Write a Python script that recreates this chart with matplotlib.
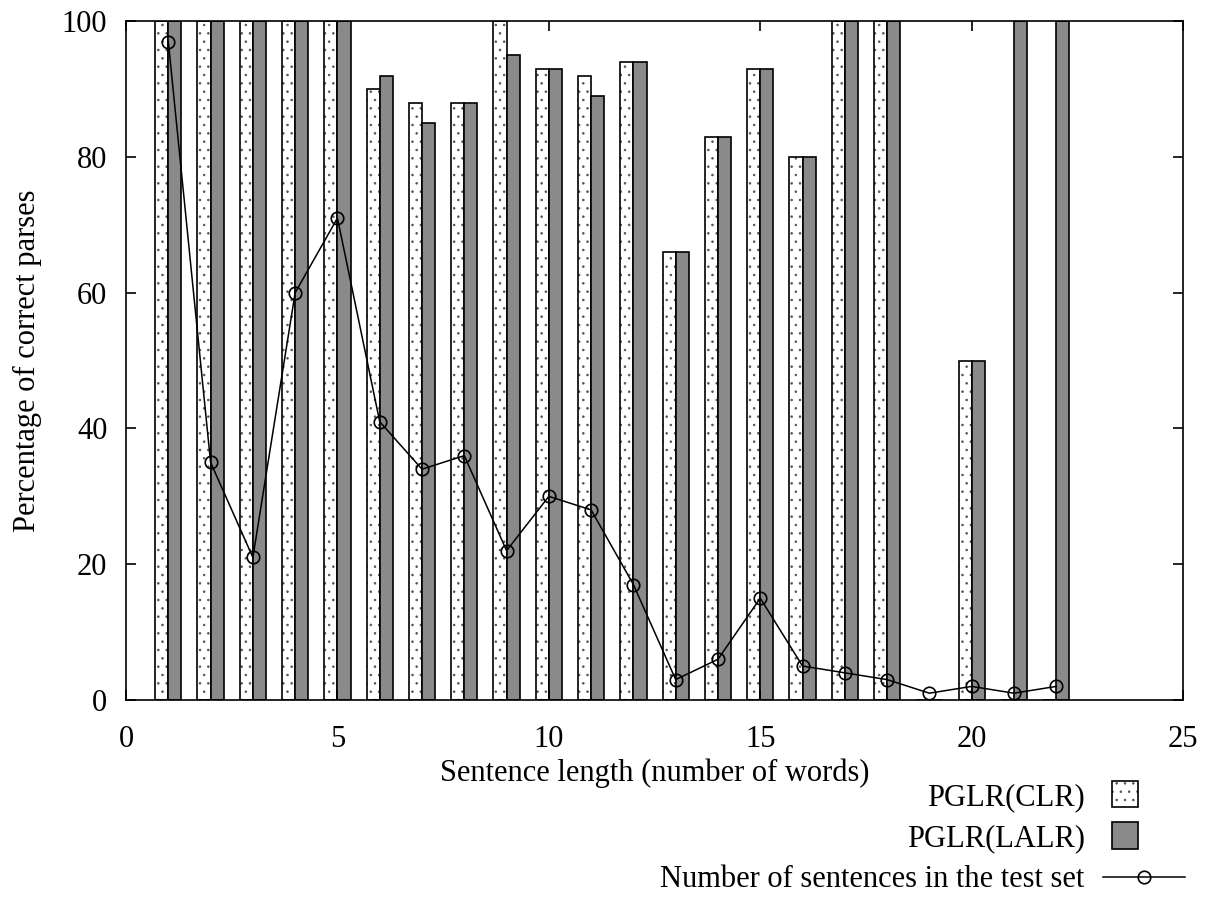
import matplotlib
matplotlib.use("Agg")
import matplotlib.pyplot as plt
import matplotlib.patches as mpatches
import numpy as np

plt.rcParams['font.family'] = ['Liberation Serif', 'DejaVu Serif']
plt.rcParams['font.size'] = 22
plt.rcParams['hatch.linewidth'] = 0.6

# sentence length (number of words)
length = [1, 2, 3, 4, 5, 6, 7, 8, 9, 10, 11, 12, 13, 14, 15, 16, 17, 18, 19, 20, 21, 22]
# percentage of correct parses
clr = [100, 100, 100, 100, 100, 90, 88, 88, 100, 93, 92, 94, 66, 83, 93, 80, 100, 100, 0, 50, 0, 0]
lalr = [100, 100, 100, 100, 100, 92, 85, 88, 95, 93, 89, 94, 66, 83, 93, 80, 100, 100, 0, 50, 100, 100]
# number of sentences in the test set
n_sent = [97, 35, 21, 60, 71, 41, 34, 36, 22, 30, 28, 17, 3, 6, 15, 5, 4, 3, 1, 2, 1, 2]

DOTS = '#555555'
GREY = '#8a8a8a'

x = np.array(length)
w = 0.31

fig = plt.figure(figsize=(12.06, 9.22), dpi=100)
ax = fig.add_axes([0.1045, 0.2408, 0.8765, 0.7362])

# dotted fill first (grey dots), black outline drawn on top
ax.bar(x - w / 2, clr, width=w, facecolor='white', edgecolor=DOTS,
       linewidth=0, hatch='..')
b1 = ax.bar(x - w / 2, clr, width=w, facecolor='none', edgecolor='black',
            linewidth=1.2, label='PGLR(CLR)')
b2 = ax.bar(x + w / 2, lalr, width=w, facecolor=GREY, edgecolor='black',
            linewidth=1.2, label='PGLR(LALR)')
ln, = ax.plot(x, n_sent, color='black', linewidth=1.1, marker='o', markersize=9,
              markerfacecolor='none', markeredgecolor='black', markeredgewidth=1.2,
              label='Number of sentences in the test set')

ax.set_xlim(0, 25)
ax.set_ylim(0, 100)
ax.set_xticks(range(0, 26, 5))
ax.set_yticks(range(0, 101, 20))
ax.tick_params(direction='in', length=7, width=1.2, top=True, right=True)
ax.tick_params(axis='x', pad=18)
ax.tick_params(axis='y', pad=13.5)
for s in ax.spines.values():
    s.set_linewidth(1.2)

ax.set_xlabel('Sentence length (number of words)', labelpad=3)
ax.set_ylabel('Percentage of correct parses', labelpad=14)


class SquareHandler:
    def __init__(self, face, hatch=None):
        self.face = face
        self.hatch = hatch

    def legend_artist(self, legend, orig_handle, fontsize, handlebox):
        x0, y0 = handlebox.xdescent, handlebox.ydescent
        h = handlebox.height
        s = 19
        pos = (x0 + 6.5, y0 + (h - s) / 2)
        if self.hatch:
            dots = mpatches.Rectangle(pos, s, s, facecolor=self.face, edgecolor=DOTS,
                                      linewidth=0, hatch=self.hatch,
                                      transform=handlebox.get_transform())
            handlebox.add_artist(dots)
            face = 'none'
        else:
            face = self.face
        rect = mpatches.Rectangle(pos, s, s, facecolor=face, edgecolor='black',
                                  linewidth=1.2, transform=handlebox.get_transform())
        handlebox.add_artist(rect)
        return rect


leg = fig.legend(handles=[b1, b2, ln], loc='upper right',
                 bbox_to_anchor=(0.983, 0.151), frameon=False, markerfirst=False,
                 handlelength=2.7, handletextpad=0.6, labelspacing=0.4,
                 borderaxespad=0, borderpad=0,
                 handler_map={b1: SquareHandler('white', '..'),
                              b2: SquareHandler(GREY)})

fig.savefig('out.png', dpi=100)
